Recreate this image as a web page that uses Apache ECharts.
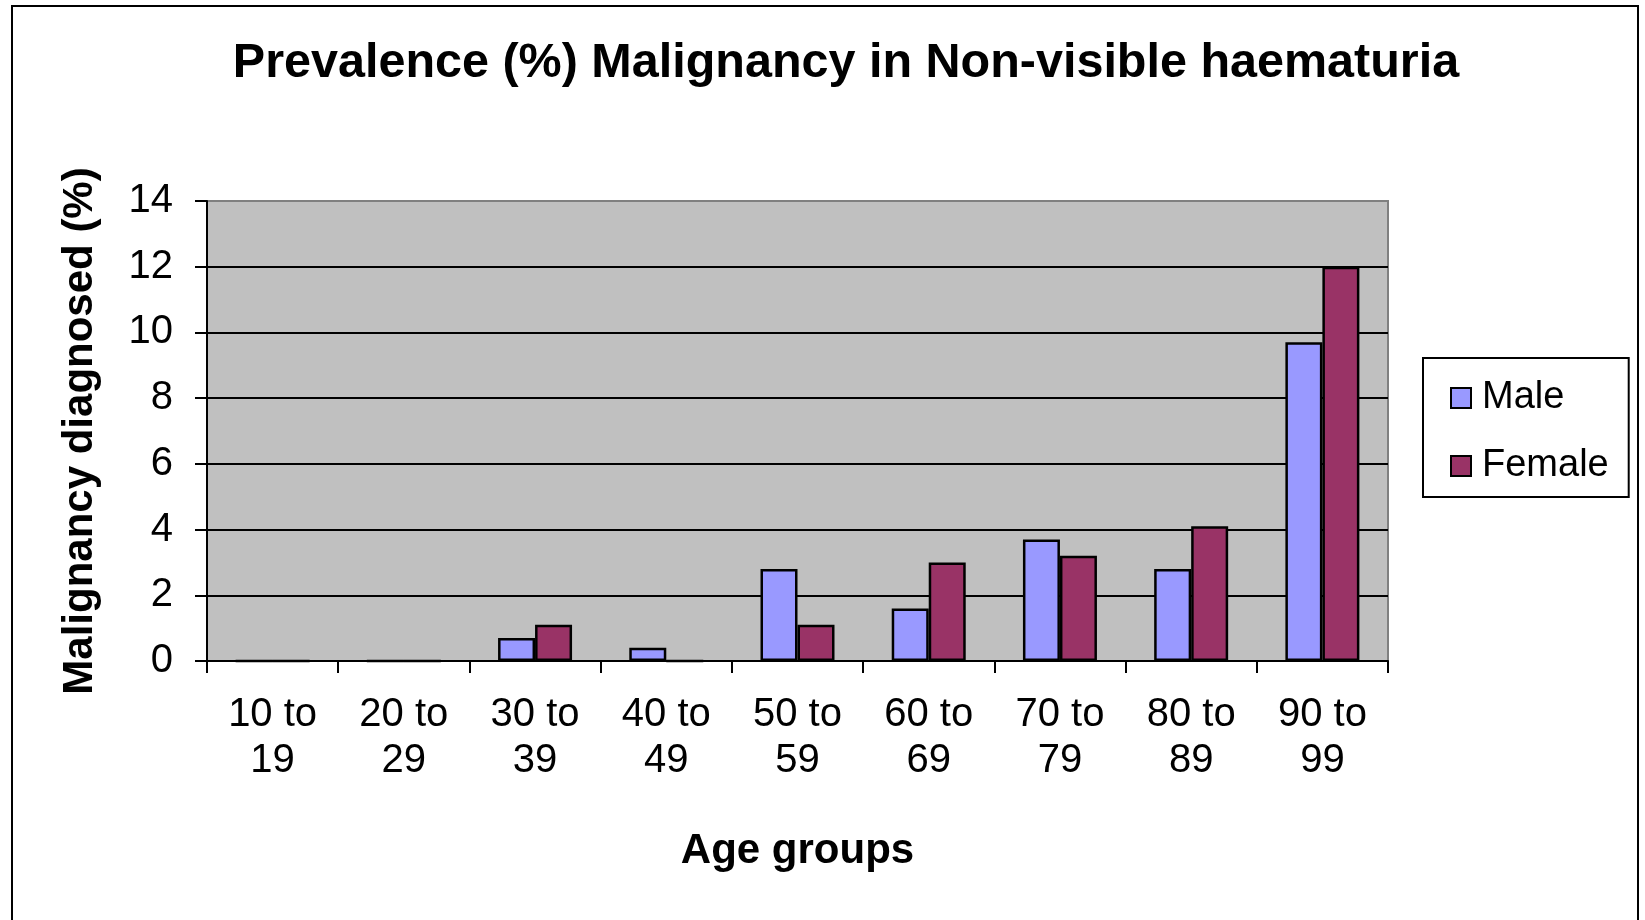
<!DOCTYPE html>
<html>
<head>
<meta charset="utf-8">
<script src="https://cdn.jsdelivr.net/npm/echarts@6/dist/echarts.min.js"></script>
<style>
  html, body { margin: 0; padding: 0; background: #ffffff; }
  #chart { width: 1645px; height: 920px; }
</style>
</head>
<body>
<div id="chart"></div>
<script>
// Age bands on the category axis
const categories = ['10 to 19', '20 to 29', '30 to 39', '40 to 49', '50 to 59',
                    '60 to 69', '70 to 79', '80 to 89', '90 to 99'];
// Malignancy diagnosed (%) per age band
const maleValues = [0, 0, 0.7, 0.4, 2.8, 1.6, 3.7, 2.8, 9.7];
const femaleValues = [0, 0, 1.1, 0, 1.1, 3.0, 3.2, 4.1, 12.0];
const seriesNames = ['Male', 'Female'];
const yTicks = { min: 0, max: 14, interval: 2 };

const FONT = "'Liberation Sans', Arial, sans-serif";

const chart = echarts.init(document.getElementById('chart'), null, { renderer: 'canvas' });

chart.setOption({
  backgroundColor: '#ffffff',
  animation: false,
  title: {
    text: 'Prevalence (%) Malignancy in Non-visible haematuria',
    left: 846,
    top: 39,
    padding: 0,
    textAlign: 'center',
    textStyle: { fontFamily: FONT, fontWeight: 'bold', fontSize: 48.5, color: '#000' }
  },
  graphic: [{
    type: 'rect',
    z: 100,
    shape: { x: 12, y: 6, width: 1626, height: 960 },
    style: { fill: 'none', stroke: '#000', lineWidth: 2 }
  }],
  legend: {
    orient: 'vertical',
    left: 1423,
    top: 358,
    padding: [17, 20, 8, 27],
    itemGap: 22,
    itemWidth: 20,
    itemHeight: 20,
    borderColor: '#000',
    borderWidth: 2,
    backgroundColor: '#fff',
    icon: 'rect',
    itemStyle: { borderColor: '#000', borderWidth: 2 },
    textStyle: { fontFamily: FONT, fontSize: 38, color: '#000', lineHeight: 40, padding: [6, 0, 0, 6] },
    data: seriesNames
  },
  grid: {
    left: 207,
    top: 201,
    width: 1181,
    bottom: 259,
    show: true,
    backgroundColor: '#C0C0C0',
    borderColor: '#808080',
    borderWidth: 2,
    containLabel: false
  },
  xAxis: {
    type: 'category',
    data: categories,
    z: 3,
    name: 'Age groups',
    nameLocation: 'middle',
    nameGap: 190,
    nameTextStyle: { fontFamily: FONT, fontWeight: 'bold', fontSize: 42, color: '#000', verticalAlign: 'middle' },
    axisLine: { show: true, lineStyle: { color: '#000', width: 2 } },
    axisTick: { show: true, length: 12, lineStyle: { color: '#000', width: 2 } },
    axisLabel: {
      fontFamily: FONT, fontSize: 40, color: '#000', lineHeight: 46, margin: 31,
      interval: 0,
      formatter: v => v.replace(' to ', ' to\n')
    },
    splitLine: { show: false }
  },
  yAxis: {
    type: 'value',
    min: yTicks.min,
    max: yTicks.max,
    interval: yTicks.interval,
    name: 'Malignancy diagnosed (%)',
    nameLocation: 'middle',
    nameGap: 127,
    nameRotate: 90,
    nameTextStyle: { fontFamily: FONT, fontWeight: 'bold', fontSize: 42, color: '#000', verticalAlign: 'middle', padding: [0, 0, 0, 0] },
    axisLine: { show: true, lineStyle: { color: '#000', width: 2 } },
    axisTick: { show: true, length: 12, lineStyle: { color: '#000', width: 2 } },
    axisLabel: { fontFamily: FONT, fontSize: 40, color: '#000', margin: 34 },
    splitLine: { show: true, showMinLine: false, showMaxLine: false, lineStyle: { color: '#000', width: 2 } }
  },
  series: [
    {
      name: seriesNames[0],
      type: 'bar',
      data: maleValues,
      barWidth: 37,
      barGap: '0%',
      itemStyle: { color: '#9999FF', borderColor: '#000', borderWidth: 2.5 }
    },
    {
      name: seriesNames[1],
      type: 'bar',
      data: femaleValues,
      barWidth: 37,
      barGap: '0%',
      itemStyle: { color: '#993366', borderColor: '#000', borderWidth: 2.5 }
    }
  ]
});
</script>
</body>
</html>
